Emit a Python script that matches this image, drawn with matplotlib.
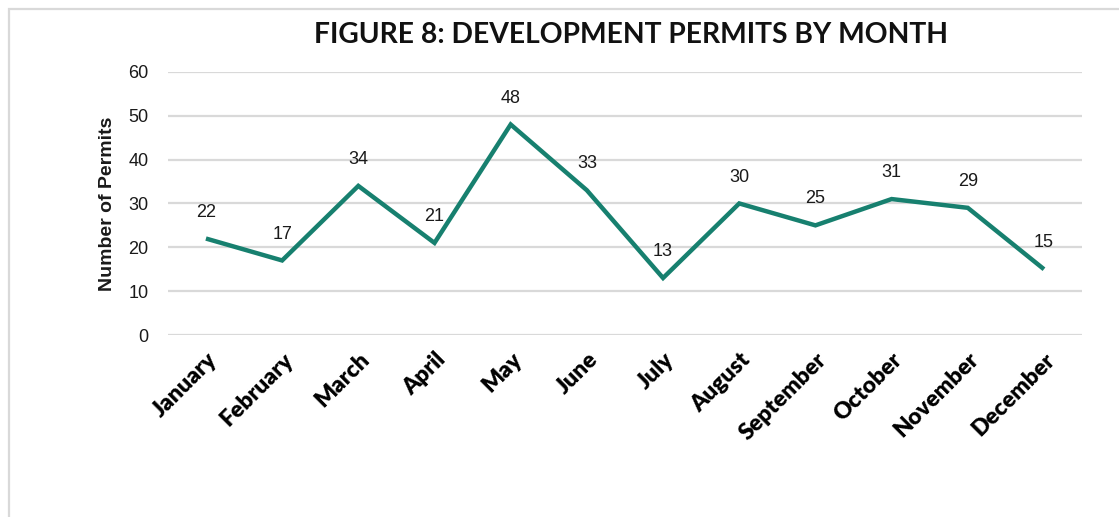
import matplotlib
matplotlib.use('Agg')
import matplotlib.pyplot as plt
from matplotlib.patches import Rectangle

# Monthly development permit counts
months = ['January', 'February', 'March', 'April', 'May', 'June', 'July',
          'August', 'September', 'October', 'November', 'December']
permits = [22, 17, 34, 21, 48, 33, 13, 30, 25, 31, 29, 15]
y_ticks = [0, 10, 20, 30, 40, 50, 60]

line_color = '#17806f'
grid_color = '#d9d9d9'

fig = plt.figure(figsize=(11.19, 5.17), dpi=100)
ax = fig.add_axes([0.150, 0.352, 0.817, 0.509])

# Light grey frame around the whole chart
fig.patches.append(Rectangle((9 / 1119, -0.1), 1.2, 1 - 9 / 517 + 0.1,
                             transform=fig.transFigure, fill=False,
                             edgecolor=grid_color, linewidth=1.6))

x = list(range(len(months)))
ax.plot(x, permits, color=line_color, linewidth=3.2, solid_joinstyle='miter',
        solid_capstyle='butt', zorder=3)

# Data labels above each point
for xi, v in zip(x, permits):
    ax.annotate(str(v), (xi, v), xytext=(0, 19), textcoords='offset points',
                ha='center', va='center', fontsize=13, color='#1a1a1a',
                family='Liberation Sans')

ax.set_xlim(-0.5, len(months) - 0.5)
ax.set_ylim(0, 60)
ax.set_yticks(y_ticks)
ax.yaxis.grid(True, color=grid_color, linewidth=1.6)
ax.set_axisbelow(True)
for s in ax.spines.values():
    s.set_visible(False)
ax.tick_params(axis='both', length=0)
ax.tick_params(axis='y', pad=14)
for lab in ax.get_yticklabels():
    lab.set_family('Liberation Sans')
    lab.set_fontsize(13)
    lab.set_color('#1a1a1a')

ax.set_xticks(x)
ax.set_xticklabels(months, rotation=45, ha='right', va='top',
                   rotation_mode='anchor', family='Lato', fontweight='heavy',
                   fontsize=16.5, color='black')
ax.tick_params(axis='x', pad=10)

ax.set_ylabel('Number of Permits', family='Liberation Sans', fontweight='bold',
              fontsize=14, color='#1a1a1a', labelpad=9)

fig.text(0.564, 0.932, 'FIGURE 8: DEVELOPMENT PERMITS BY MONTH', ha='center',
         va='center', family='Lato', fontweight='bold', fontsize=20.3, color='#111111')

fig.savefig('out.png', dpi=100)
